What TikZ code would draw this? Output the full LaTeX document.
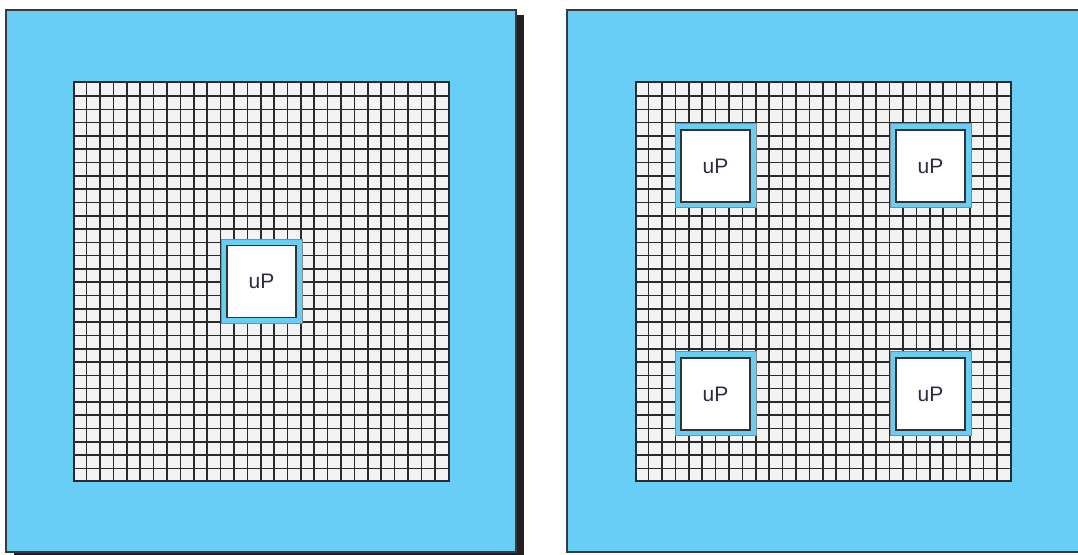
\documentclass[tikz,border=0pt]{standalone}
\usepackage{fontspec}
\setsansfont{Liberation Sans}
\usepackage{xcolor}
\usetikzlibrary{calc,positioning}
\definecolor{BoardBlue}{HTML}{69CEF6}
\definecolor{BoardEdge}{HTML}{3A3A3A}
\definecolor{CellFill}{HTML}{F3F3F3}
\definecolor{CellLine}{HTML}{2A2A2A}
\definecolor{ChipEdge}{HTML}{333333}
\definecolor{ChipText}{HTML}{2B2B44}
\definecolor{Shadow}{HTML}{231F20}

\begin{document}
\begin{tikzpicture}[
  x=1pt,y=1pt,
  board/.style={draw=BoardEdge,fill=BoardBlue,line width=1.6pt,inner sep=0pt},
  cellarray/.style={draw=CellLine,fill=CellFill,line width=1.6pt,inner sep=0pt,minimum width=375pt,minimum height=399pt},
  cell/.style={draw=CellLine,line width=1.6pt},
  chip/.style={draw=ChipEdge,fill=white,line width=1.8pt,inner sep=0pt,minimum width=69pt,minimum height=72pt,
    font=\sffamily\fontsize{21}{21}\selectfont,text=ChipText,
    preaction={draw=BoardEdge!60,line width=13pt},
    preaction={draw=BoardBlue,line width=11pt}}
]
  \useasboundingbox (0,0) rectangle (1078,554);
  \clip (0,0) rectangle (1078,554);
  % boards
  \node[fill=Shadow,inner sep=0pt,minimum width=510pt,minimum height=542pt] (leftshadow) at (269,268) {};
  \node[board,minimum width=510pt,minimum height=542pt] (leftboard) at (261,273) {};
  \node[board,minimum width=520pt,minimum height=542pt] (rightboard) at (827,273) {};
  % cell arrays
  \node[cellarray] (leftgrid) at (261.5,272.5) {};
  \node[cellarray] (rightgrid) at (823.5,272.5) {};
  \foreach \g in {leftgrid,rightgrid} {
    \foreach \i in {1,...,27}
      \draw[cell] ([xshift=\i*375pt/28]\g.south west) -- ([xshift=\i*375pt/28]\g.north west);
    \foreach \j in {1,...,29}
      \draw[cell] ([yshift=\j*399pt/30]\g.south west) -- ([yshift=\j*399pt/30]\g.south east);
  }
  % processors
  \node[chip] (upcenter) at (leftgrid.center) {uP};
  \node[chip] (upnw) at ($(rightgrid.center)+(-108,115.5)$) {uP};
  \node[chip] (upne) at ($(rightgrid.center)+(107,115.5)$) {uP};
  \node[chip] (upsw) at ($(rightgrid.center)+(-108,-112.5)$) {uP};
  \node[chip] (upse) at ($(rightgrid.center)+(107,-112.5)$) {uP};
\end{tikzpicture}
\end{document}
